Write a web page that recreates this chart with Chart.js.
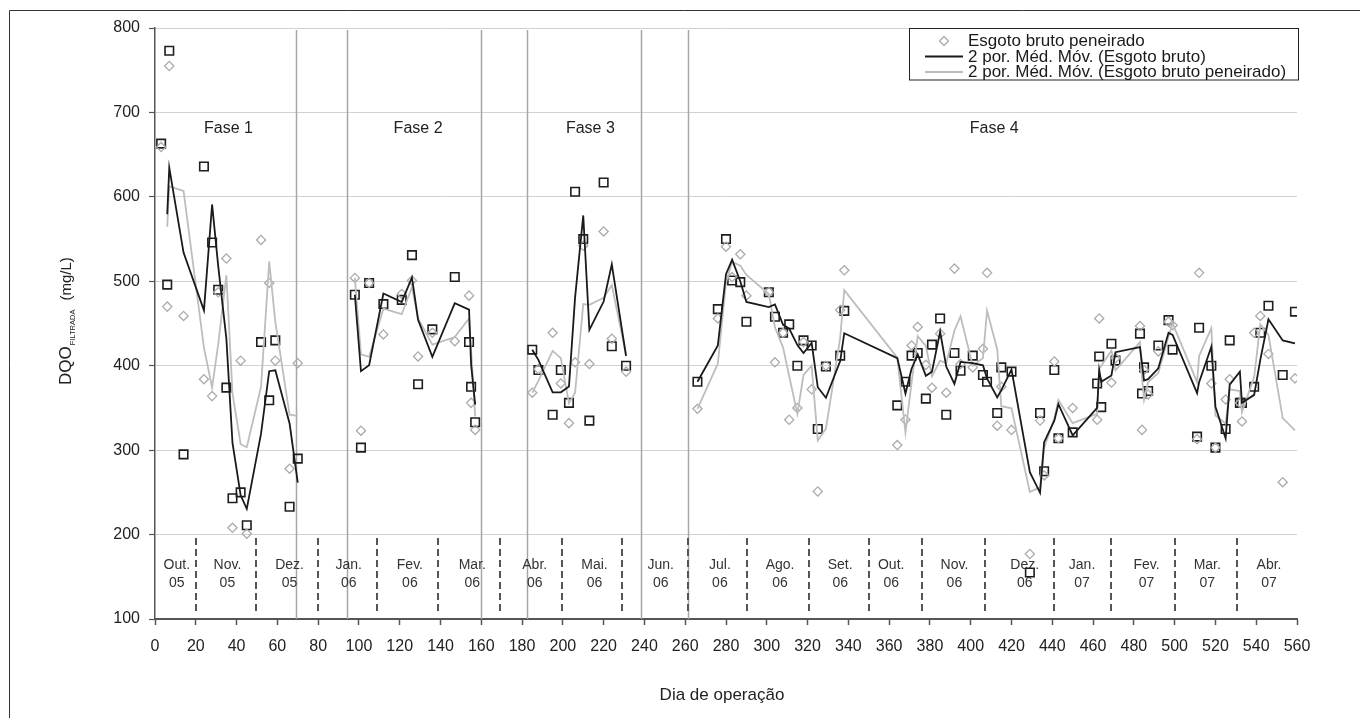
<!DOCTYPE html>
<html>
<head>
<meta charset="utf-8">
<script src="https://cdn.jsdelivr.net/npm/chart.js@4.4.1/dist/chart.umd.min.js"></script>
<style>
  html, body { margin: 0; padding: 0; background: #fff; }
  #wrap { position: relative; width: 1360px; height: 718px; }
</style>
</head>
<body>
<div id="wrap"><canvas id="c" width="1360" height="718"></canvas></div>
<script>
// ---- Dados: DQO filtrada (mg/L) por dia de operação, por fase ----
const fase1Dias      = [3, 6, 7, 14, 24, 28, 31, 35, 38, 42, 45, 52, 56, 59, 66, 70];
const fase1Bruto     = [663, 496, 773, 295, 636, 546, 490, 374, 243, 250, 211, 428, 359, 430, 233, 290];
const fase1Peneirado = [659, 470, 755, 459, 384, 364, 487, 527, 208, 406, 201, 549, 498, 406, 278, 403];

const fase2Dias      = [98, 101, 105, 112, 121, 126, 129, 136, 147, 154, 155, 157];
const fase2Bruto     = [484, 303, 498, 473, 478, 531, 378, 443, 505, 428, 375, 333];
const fase2Peneirado = [504, 323, 498, 437, 485, 501, 411, 439, 429, 483, 356, 324];

const fase3Dias      = [185, 188, 195, 199, 203, 206, 210, 213, 220, 224, 231];
const fase3Bruto     = [419, 395, 342, 395, 356, 606, 550, 335, 617, 423, 400];
const fase3Peneirado = [368, 396, 439, 379, 332, 404, 542, 402, 559, 432, 393];

const fase4Dias      = [266, 276, 280, 283, 287, 290, 301, 304, 308, 311, 315, 318, 322, 325, 329, 336, 338,
                        364, 368, 371, 374, 378, 381, 385, 388, 392, 395, 401, 406, 408, 413, 415, 420, 429, 434, 436, 441, 443, 450,
                        462, 463, 464, 469, 471, 483, 484, 485, 487, 492, 497, 499, 511, 512, 518, 520, 525, 527, 532, 533, 539, 542, 546, 553, 559];
const fase4Bruto     = [381, 467, 550, 501, 499, 452, 487, 458, 439, 449, 400, 430, 424, 325, 399, 412, 465,
                        353, 381, 412, 415, 361, 425, 456, 342, 415, 394, 412, 389, 381, 344, 398, 393, 155, 344, 275, 395, 314, 321,
                        379, 411, 351, 426, 406, 438, 367, 398, 370, 424, 454, 419, 316, 445, 400, 303, 325, 430, 356, 356, 375, 439, 471, 389, 464];
const fase4Peneirado = [349, 456, 541, 505, 532, 483, 487, 404, 439, 336, 350, 428, 372, 251, 400, 466, 513,
                        306, 336, 424, 446, 401, 374, 438, 368, 515, 402, 398, 420, 510, 329, 375, 324, 177, 335, 270, 405, 314, 350,
                        336, 456, null, 380, 409, 447, 324, 395, 366, 417, 452, 448, 313, 510, 379, 303, 360, 384, 356, 334, 439, 459, 414, 262, 385];

// Eixos
const ticksX = [0, 20, 40, 60, 80, 100, 120, 140, 160, 180, 200, 220, 240, 260, 280, 300, 320, 340, 360, 380, 400, 420, 440, 460, 480, 500, 520, 540, 560];
const ticksY = [100, 200, 300, 400, 500, 600, 700, 800];

// Divisões entre fases (linhas contínuas) e entre meses (tracejadas)
const limitesFase = [69, 94, 160, 182.5, 238.5, 261.5];
const limitesMes  = [20, 49.5, 80, 109, 139, 169, 199.5, 229, 261.6, 290.3, 320.6, 350.2, 376, 407, 441, 469, 500, 530.5];
const rotulosFase = ['Fase 1', 'Fase 2', 'Fase 3', 'Fase 4'];
const posRotuloFase = [36, 129, 213.5, 411.5];
const rotulosMes = [['Out.', '05'], ['Nov.', '05'], ['Dez.', '05'], ['Jan.', '06'], ['Fev.', '06'], ['Mar.', '06'],
                    ['Abr.', '06'], ['Mai.', '06'], ['Jun.', '06'], ['Jul.', '06'], ['Ago.', '06'], ['Set.', '06'],
                    ['Out.', '06'], ['Nov.', '06'], ['Dez.', '06'], ['Jan.', '07'], ['Fev.', '07'], ['Mar.', '07'], ['Abr.', '07']];
const posRotuloMes = [10.7, 35.5, 66, 95, 125, 155.6, 186.2, 215.5, 248, 277, 306.5, 336, 361, 392, 426.5, 454.6, 486.2, 516, 546.3];

const FONT = '"Liberation Sans", Arial, sans-serif';

const fases = [
  [fase1Dias, fase1Bruto, fase1Peneirado],
  [fase2Dias, fase2Bruto, fase2Peneirado],
  [fase3Dias, fase3Bruto, fase3Peneirado],
  [fase4Dias, fase4Bruto, fase4Peneirado]
];

function pontos(col) {
  const out = [];
  fases.forEach(f => f[0].forEach((d, i) => { if (f[col][i] != null) out.push({ x: d, y: f[col][i] }); }));
  return out;
}

// Média móvel de 2 períodos; as fases são separadas por linhas em branco,
// então a primeira amostra após um intervalo é a própria amostra.
function mediaMovel2(col) {
  const out = [];
  fases.forEach((f, s) => {
    const serie = f[0].map((d, i) => [d, f[col][i]]).filter(p => p[1] != null);
    if (s > 0) out.push({ x: serie[0][0] - 0.5, y: null });
    serie.forEach(([d, v], i) => {
      if (i === 0) { if (s > 0) out.push({ x: d, y: v }); return; }
      out.push({ x: d, y: (serie[i - 1][1] + v) / 2 });
    });
  });
  return out;
}

const decoracoes = {
  id: 'decoracoes',
  beforeDatasetsDraw(chart) {
    const { ctx, chartArea: a, scales: { x, y } } = chart;
    ctx.save();
    // linhas de fase
    ctx.strokeStyle = '#a6a6a6';
    ctx.lineWidth = 1.5;
    limitesFase.forEach(d => {
      const px = Math.round(x.getPixelForValue(d)) + 0.5;
      ctx.beginPath(); ctx.moveTo(px, a.top + 2); ctx.lineTo(px, a.bottom); ctx.stroke();
    });
    // linhas tracejadas dos meses
    ctx.strokeStyle = '#555';
    ctx.lineWidth = 2;
    ctx.setLineDash([7, 4]);
    limitesMes.forEach(d => {
      const px = Math.round(x.getPixelForValue(d));
      ctx.beginPath(); ctx.moveTo(px, y.getPixelForValue(196)); ctx.lineTo(px, y.getPixelForValue(105)); ctx.stroke();
    });
    ctx.setLineDash([]);
    // rótulos dos meses
    ctx.fillStyle = '#333';
    ctx.font = '14px ' + FONT;
    ctx.textAlign = 'center';
    ctx.textBaseline = 'middle';
    rotulosMes.forEach((r, i) => {
      const px = x.getPixelForValue(posRotuloMes[i]);
      ctx.fillText(r[0], px, 565);
      ctx.fillText(r[1], px, 583);
    });
    // rótulos das fases
    ctx.fillStyle = '#222';
    ctx.font = '16px ' + FONT;
    rotulosFase.forEach((t, i) => ctx.fillText(t, x.getPixelForValue(posRotuloFase[i]), 129));
    ctx.restore();
  },
  afterDraw(chart) {
    const { ctx } = chart;
    ctx.save();
    // moldura externa
    ctx.strokeStyle = '#333';
    ctx.lineWidth = 1;
    ctx.beginPath(); ctx.moveTo(9.5, 718); ctx.lineTo(9.5, 10.5); ctx.lineTo(1360, 10.5); ctx.stroke();

    // título do eixo y: DQO com subscrito FILTRADA
    ctx.fillStyle = '#222';
    ctx.translate(71, 385);
    ctx.rotate(-Math.PI / 2);
    ctx.textAlign = 'left';
    ctx.textBaseline = 'alphabetic';
    ctx.font = '17px ' + FONT;
    ctx.fillText('DQO', 0, 0);
    const w1 = ctx.measureText('DQO').width;
    ctx.font = '7.5px ' + FONT;
    ctx.fillText('FILTRADA', w1 + 1, 3.5);
    const w2 = ctx.measureText('FILTRADA').width;
    ctx.font = '15px ' + FONT;
    ctx.fillText('(mg/L)', w1 + w2 + 10, 0);
    ctx.setTransform(1, 0, 0, 1, 0, 0);

    // título do eixo x
    ctx.textAlign = 'center';
    ctx.font = '17px ' + FONT;
    ctx.fillText('Dia de operação', 722, 700);

    // legenda
    ctx.fillStyle = '#fff';
    ctx.fillRect(910, 29, 389, 51);
    ctx.strokeStyle = '#222';
    ctx.lineWidth = 1;
    ctx.strokeRect(909.5, 28.5, 389, 51.5);
    ctx.strokeStyle = '#ababab';
    ctx.lineWidth = 1.3;
    ctx.beginPath();
    ctx.moveTo(944, 36.5); ctx.lineTo(948.5, 41); ctx.lineTo(944, 45.5); ctx.lineTo(939.5, 41); ctx.closePath();
    ctx.stroke();
    ctx.strokeStyle = '#1a1a1a';
    ctx.lineWidth = 1.8;
    ctx.beginPath(); ctx.moveTo(925, 56.5); ctx.lineTo(963, 56.5); ctx.stroke();
    ctx.strokeStyle = '#bdbdbd';
    ctx.beginPath(); ctx.moveTo(925, 72); ctx.lineTo(963, 72); ctx.stroke();
    ctx.fillStyle = '#1a1a1a';
    ctx.font = '17px ' + FONT;
    ctx.textAlign = 'left';
    ctx.fillText('Esgoto bruto peneirado', 968, 46);
    ctx.fillText('2 por. Méd. Móv. (Esgoto bruto)', 968, 61.7);
    ctx.fillText('2 por. Méd. Móv. (Esgoto bruto peneirado)', 968, 77.3);
    ctx.restore();
  }
};

new Chart(document.getElementById('c'), {
  type: 'scatter',
  data: {
    datasets: [
      { label: '2 por. Méd. Móv. (Esgoto bruto)', data: mediaMovel2(1), showLine: true, spanGaps: false,
        borderColor: '#1a1a1a', borderWidth: 1.8, pointRadius: 0, order: 0 },
      { label: '2 por. Méd. Móv. (Esgoto bruto peneirado)', data: mediaMovel2(2), showLine: true, spanGaps: false,
        borderColor: '#bdbdbd', borderWidth: 1.8, pointRadius: 0, order: 1 },
      { label: 'Esgoto bruto peneirado', data: pontos(2), pointStyle: 'rectRot', pointRadius: 4.6,
        borderColor: '#ababab', borderWidth: 1.3, backgroundColor: 'rgba(0,0,0,0)', order: 2 },
      { label: 'Esgoto bruto', data: pontos(1), pointStyle: 'rect', pointRadius: 6,
        borderColor: '#1e1e1e', borderWidth: 1.6, backgroundColor: 'rgba(0,0,0,0)', order: 3 }
    ]
  },
  options: {
    responsive: false,
    animation: false,
    devicePixelRatio: 1,
    layout: { padding: { top: 28, right: 63, left: 0, bottom: 0 } },
    plugins: { legend: { display: false }, tooltip: { enabled: false } },
    scales: {
      x: {
        type: 'linear', min: 0, max: 560,
        afterBuildTicks: s => { s.ticks = ticksX.map(v => ({ value: v })); },
        afterFit: s => { s.height = 99; },
        ticks: { font: { size: 16, family: FONT }, color: '#222', maxRotation: 0, autoSkip: false, padding: 12 },
        grid: { drawOnChartArea: false, drawTicks: true, tickLength: 6, tickColor: '#555', tickWidth: 1.5 },
        border: { color: '#555', width: 2 }
      },
      y: {
        min: 100, max: 800,
        afterBuildTicks: s => { s.ticks = ticksY.map(v => ({ value: v })); },
        afterFit: s => { s.width = 155; },
        ticks: { font: { size: 16, family: FONT }, color: '#222', padding: 9 },
        grid: { color: '#d2d2d2', lineWidth: 1, drawTicks: true, tickLength: 6, tickColor: '#555', tickWidth: 1.2 },
        border: { color: '#555', width: 1.5 }
      }
    }
  },
  plugins: [decoracoes]
});
</script>
</body>
</html>
